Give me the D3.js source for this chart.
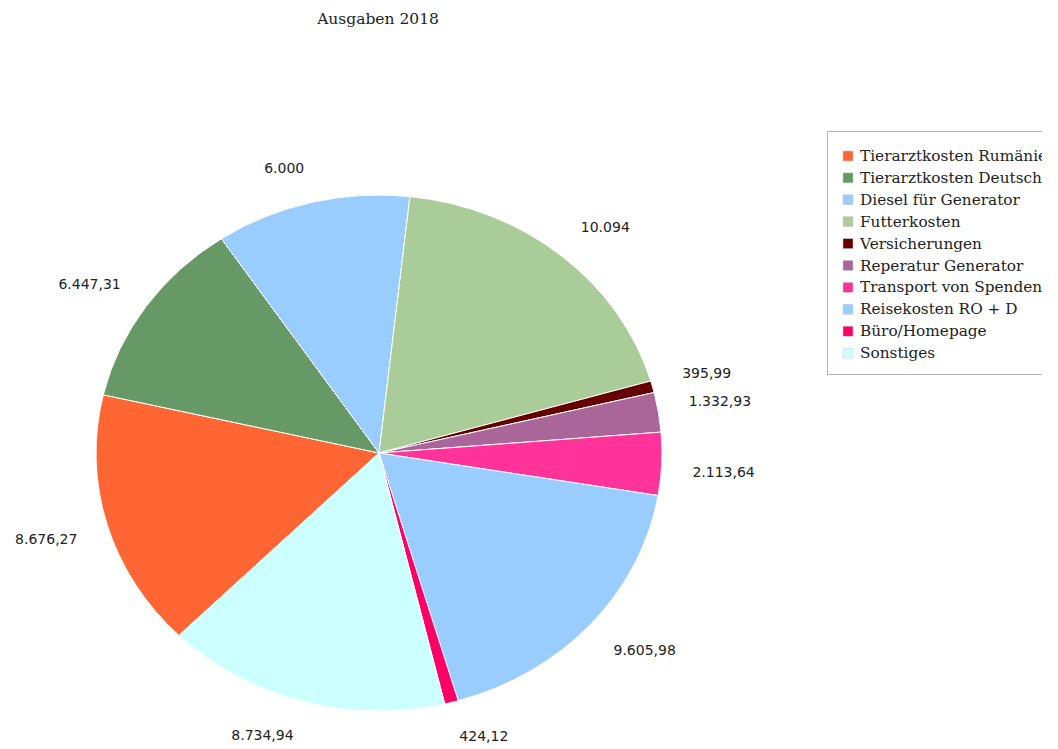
<!DOCTYPE html>
<html>
<head>
<meta charset="utf-8">
<script src="https://cdn.jsdelivr.net/npm/d3@7"></script>
<style>
  body { margin: 0; background: #fff; }
  svg { display: block; }
</style>
</head>
<body>
<svg id="chart" width="1058" height="749"></svg>
<script>
// data
const categories = [
    "Tierarztkosten Rumänien",
    "Tierarztkosten Deutschland",
    "Diesel für Generator",
    "Futterkosten",
    "Versicherungen",
    "Reperatur Generator",
    "Transport von Spenden",
    "Reisekosten RO + D",
    "Büro/Homepage",
    "Sonstiges"
];
const values = [8676.27, 6447.31, 6000, 10094, 395.99, 1332.93, 2113.64, 9605.98, 424.12, 8734.94];
const valueLabels = ["8.676,27", "6.447,31", "6.000", "10.094", "395,99", "1.332,93", "2.113,64", "9.605,98", "424,12", "8.734,94"];
const colors = ["#ff6633", "#669966", "#99ccff", "#aacc99", "#660000", "#aa6699", "#ff3399", "#99ccff", "#ff0066", "#ccffff"];

const svg = d3.select("#chart");

// pie is drawn a bit wider than tall, like the original
const cx = 379, cy = 453;
const ry = 258, sx = 283 / 258;

svg.append("text")
    .attr("x", 378)
    .attr("y", 24)
    .attr("text-anchor", "middle")
    .attr("font-family", "DejaVu Serif")
    .attr("font-size", 15.5)
    .attr("fill", "#222")
    .text("Ausgaben 2018");

let pie = d3.pie()
    .sort(null)
    .startAngle(225 * Math.PI / 180)
    .endAngle(585 * Math.PI / 180);

let arcs = pie(values);
let arc = d3.arc().innerRadius(0).outerRadius(ry);

let g = svg.append("g")
    .attr("transform", `translate(${cx},${cy}) scale(${sx},1)`);

g.selectAll(".slice")
    .data(arcs)
    .enter()
    .append("path")
    .attr("class", "slice")
    .attr("d", arc)
    .attr("fill", (d, i) => colors[i])
    .attr("stroke", "#ffffff")
    .attr("stroke-width", 1)
    .attr("vector-effect", "non-scaling-stroke");

// value labels: the box corner nearest the pie sits on a ring just outside it
let labelR = ry + 28;
let labels = svg.append("g");
arcs.forEach((d, i) => {
    let a = (d.startAngle + d.endAngle) / 2;
    let s = Math.sin(a), c = -Math.cos(a);
    let t = labels.append("text")
        .attr("font-family", "DejaVu Sans")
        .attr("font-size", 14)
        .attr("fill", "#222")
        .text(valueLabels[i]);
    let w = t.node().getComputedTextLength() / sx;
    let h = 14;
    let px = labelR * s, py = labelR * c;
    let left = s >= 0 ? px : px - w;
    let top = c >= 0 ? py : py - h;
    t.attr("x", cx + left * sx)
     .attr("y", cy + top + 12);
});

// legend, clipped at the right like the original
svg.append("clipPath")
    .attr("id", "legclip")
    .append("rect")
    .attr("x", 820).attr("y", 120).attr("width", 222).attr("height", 270);

let leg = svg.append("g").attr("clip-path", "url(#legclip)");
leg.append("rect")
    .attr("x", 827.5).attr("y", 131.5)
    .attr("width", 240).attr("height", 243)
    .attr("fill", "none")
    .attr("stroke", "#b3b3b3");

let rows = leg.selectAll(".row")
    .data(categories)
    .enter()
    .append("g")
    .attr("class", "row")
    .attr("transform", (d, i) => `translate(843,${156 + i * 21.9})`);

rows.append("rect")
    .attr("x", 0).attr("y", -5)
    .attr("width", 10).attr("height", 10)
    .attr("fill", (d, i) => colors[i])
    .attr("stroke", "#cccccc")
    .attr("stroke-width", 0.5);

rows.append("text")
    .attr("x", 17)
    .attr("y", 5)
    .attr("font-family", "DejaVu Serif")
    .attr("font-size", 15.3)
    .attr("fill", "#222")
    .text(d => d);
</script>
</body>
</html>
